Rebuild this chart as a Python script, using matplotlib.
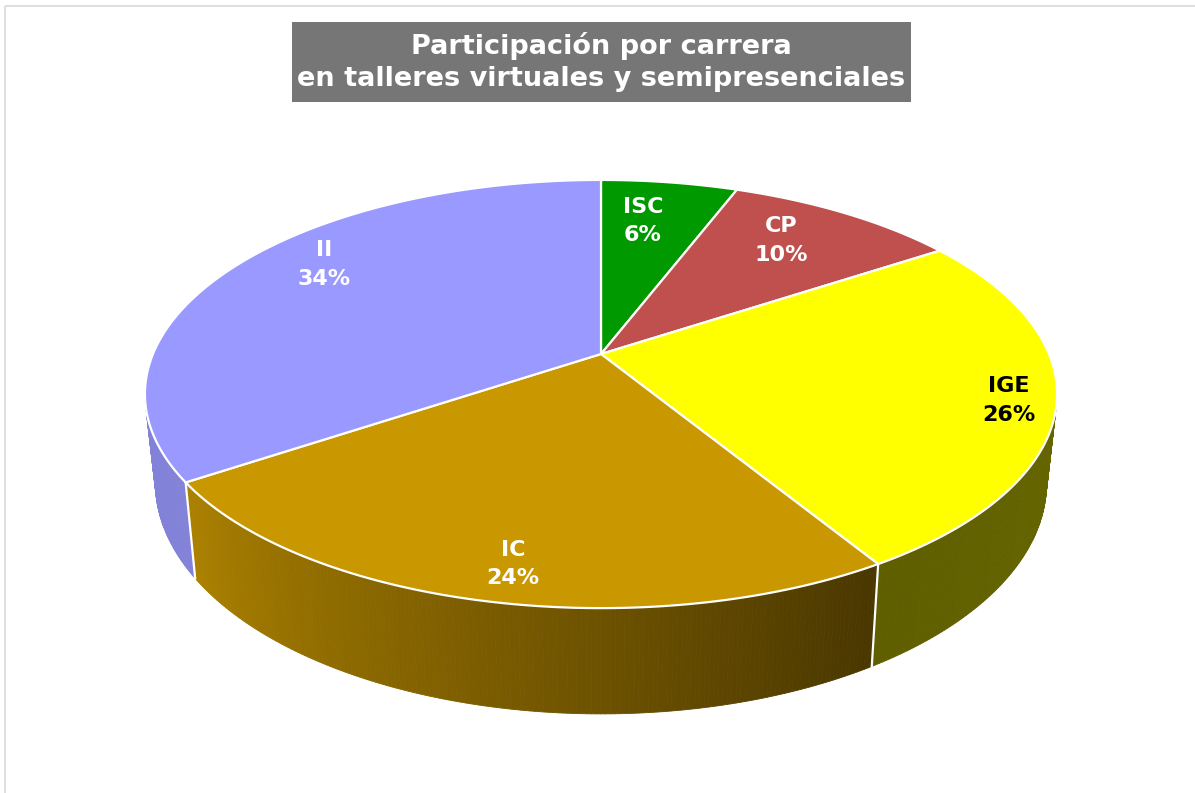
import numpy as np
import matplotlib.pyplot as plt
from matplotlib.patches import Polygon, Rectangle

# data (percent of participants per career)
careers = ["ISC", "CP", "IGE", "IC", "II"]
shares = [5.8, 9.9, 25.6, 24.3, 34.4]
top_colors = ["#009900", "#C0504D", "#FFFF00", "#C99700", "#9999FF"]
label_colors = ["white", "white", "black", "white", "white"]
label_radius = [0.74, 0.76, 0.90, 0.87, 0.82]
label_turn = [2.2, 2.5, -1.2, 1.5, -6.9]

TITLE = "Participación por carrera\nen talleres virtuales y semipresenciales"

# perspective of the 3D pie (pixel space)
CX, S = 601, 448
CY, A, C = 354, 140.4, 0.187
H = 86
SHRINK = 0.977
FONT = "DejaVu Sans"


def project(u, v, bottom=False):
    w = 1 + C * v
    x = CX + S * u / w * (SHRINK if bottom else 1.0)
    y = (CY - A * v) / w + (H / w if bottom else 0.0)
    return x, y


def rim(theta_deg, bottom=False):
    t = np.radians(theta_deg)
    return project(np.cos(t), np.sin(t), bottom)


def shade(theta_deg):
    a = np.mod(theta_deg, 360)
    return np.interp(a, [190, 215, 300, 350], [0.85, 0.85, 0.37, 0.40])


def hex_rgb(h):
    h = h.lstrip("#")
    return np.array([int(h[i:i + 2], 16) for i in (0, 2, 4)]) / 255.0


fig = plt.figure(figsize=(11.95, 7.93), dpi=100)
ax = fig.add_axes([0, 0, 1, 1])
ax.set_xlim(0, 1195)
ax.set_ylim(793, 0)
ax.axis("off")

ax.add_patch(Rectangle((5, 6), 1195, 800, facecolor="none", edgecolor="#D9D9D9", lw=1.2))

total = sum(shares)
bounds = 90 - np.concatenate([[0], np.cumsum(shares)]) / total * 360

# side walls of the front half
front_lo, front_hi = -180 + np.degrees(np.arcsin(C)), -np.degrees(np.arcsin(C))
for i, col in enumerate(top_colors):
    hi, lo = bounds[i], bounds[i + 1]
    a, b = max(lo, front_lo), min(hi, front_hi)
    if a >= b:
        continue
    rgb = hex_rgb(col)
    ts = np.linspace(b, a, max(int((b - a) / 0.5), 2))
    for t0, t1 in zip(ts[:-1], ts[1:]):
        pts = [rim(t0), rim(t1), rim(t1, True), rim(t0, True)]
        fc = rgb * shade((t0 + t1) / 2)
        ax.add_patch(Polygon(pts, closed=True, facecolor=fc, edgecolor=fc, lw=0.6))

for t in bounds:
    tt = (t + 180) % 360 - 180
    if front_lo < tt < front_hi:
        (x0, y0), (x1, y1) = rim(tt), rim(tt, True)
        ax.plot([x0, x1], [y0, y1], color="white", lw=1.6)

# top face
for i, col in enumerate(top_colors):
    ts = np.linspace(bounds[i], bounds[i + 1], 200)
    pts = [project(0, 0)] + [rim(t) for t in ts]
    ax.add_patch(Polygon(pts, closed=True, facecolor=col, edgecolor="white", lw=1.6, joinstyle="round"))

# labels
for i, name in enumerate(careers):
    mid = np.radians((bounds[i] + bounds[i + 1]) / 2 + label_turn[i])
    r = label_radius[i]
    x, y = project(r * np.cos(mid), r * np.sin(mid))
    pct = shares[i] / total * 100
    ax.text(x, y, f"{name}\n{pct:.0f}%", ha="center", va="center", color=label_colors[i],
            fontsize=16, fontweight="bold", family=FONT, linespacing=1.55)

# title
ax.add_patch(Rectangle((292, 22), 619, 80, facecolor="#767676", edgecolor="none"))
ax.text(601, 62, TITLE, ha="center", va="center", color="white", fontsize=19.5,
        fontweight="bold", family=FONT, linespacing=1.25)

fig.savefig("out.png", dpi=100, facecolor="white")
